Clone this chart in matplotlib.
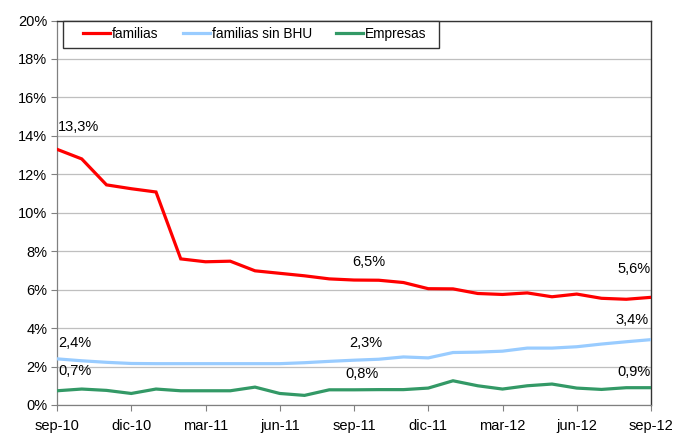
import matplotlib
matplotlib.use("Agg")
import matplotlib.pyplot as plt
from matplotlib.patches import Rectangle
import numpy as np

plt.rcParams['font.family'] = ['Liberation Sans', 'DejaVu Sans']

months = ["sep-10", "oct-10", "nov-10", "dic-10", "ene-11", "feb-11", "mar-11", "abr-11",
          "may-11", "jun-11", "jul-11", "ago-11", "sep-11", "oct-11", "nov-11", "dic-11",
          "ene-12", "feb-12", "mar-12", "abr-12", "may-12", "jun-12", "jul-12", "ago-12", "sep-12"]
tick_labels = ["sep-10", "dic-10", "mar-11", "jun-11", "sep-11", "dic-11", "mar-12", "jun-12", "sep-12"]

familias = [13.3, 12.8, 11.45, 11.25, 11.08, 7.6, 7.45, 7.48, 6.98, 6.85, 6.72, 6.56, 6.5,
            6.49, 6.37, 6.05, 6.04, 5.8, 5.75, 5.83, 5.63, 5.77, 5.55, 5.5, 5.6]
familias_sin_bhu = [2.4, 2.3, 2.22, 2.16, 2.15, 2.15, 2.15, 2.15, 2.15, 2.15, 2.2, 2.27, 2.33,
                    2.38, 2.5, 2.45, 2.73, 2.75, 2.8, 2.96, 2.96, 3.03, 3.17, 3.29, 3.4]
empresas = [0.74, 0.83, 0.76, 0.6, 0.83, 0.74, 0.74, 0.74, 0.93, 0.6, 0.5, 0.79, 0.79,
            0.8, 0.8, 0.88, 1.26, 1.0, 0.83, 1.0, 1.09, 0.88, 0.81, 0.9, 0.9]

series = [("familias", familias, "#FF0000"),
          ("familias sin BHU", familias_sin_bhu, "#99CCFF"),
          ("Empresas", empresas, "#339966")]

W, H = 680, 437
AX_L, AX_B, AX_W, AX_H = 57, 32, 594, 384.5
fig = plt.figure(figsize=(W / 100, H / 100), dpi=100)
ax = fig.add_axes([AX_L / W, AX_B / H, AX_W / W, AX_H / H])

x = np.arange(len(months))
for name, vals, col in series:
    ax.plot(x, vals, color=col, lw=2.3, label=name, solid_joinstyle='miter', zorder=3)

ax.set_xlim(0, len(months) - 1)
ax.set_ylim(0, 20)
ax.set_yticks(np.arange(0, 21, 2))
ax.set_yticklabels([f"{v}%" for v in range(0, 21, 2)])
ax.set_xticks(x[::3])
ax.set_xticklabels(tick_labels)
ax.yaxis.grid(True, color="#BFBFBF", lw=0.9)
ax.set_axisbelow(True)
ax.tick_params(axis='both', direction='out', length=4, width=0.8, color='#808080',
               labelsize=10.5, colors='black')
ax.tick_params(axis='x', pad=6)
ax.tick_params(axis='y', pad=3)
for s in ['left', 'bottom']:
    ax.spines[s].set_color('#808080')
    ax.spines[s].set_linewidth(0.9)
for s in ['top', 'right']:
    ax.spines[s].set_color('#333333')
    ax.spines[s].set_linewidth(1.0)

def fmt(v):
    return f"{v:.1f}".replace(".", ",") + "%"

labels = [(familias, 0, 'left', 1, 22), (familias, 12, 'left', -2, 18), (familias, 24, 'right', 0, 28),
          (familias_sin_bhu, 0, 'left', 1, 16), (familias_sin_bhu, 12, 'left', -5, 17),
          (familias_sin_bhu, 24, 'right', -2, 20),
          (empresas, 0, 'left', 1, 20), (empresas, 12, 'left', -9, 16), (empresas, 24, 'right', 0, 16)]
for vals, i, ha, dx, dy in labels:
    ax.annotate(fmt(vals[i]), xy=(x[i], vals[i]), xytext=(dx, dy), textcoords='offset pixels',
                ha=ha, va='center', fontsize=10.5, zorder=4)

# legend box (pixels in figure space: x 63..439, y-from-top 20.7..47.7)
box_x0, box_x1, box_top, box_bot = 63, 439, 20.7, 47.7
rect = Rectangle((box_x0 / W, 1 - box_bot / H), (box_x1 - box_x0) / W, (box_bot - box_top) / H,
                 transform=fig.transFigure, facecolor='white', edgecolor='#333333', lw=1.0,
                 zorder=5)
fig.patches.append(rect)
leg = fig.legend(loc='center left', bbox_to_anchor=(83 / W, 1 - 34.2 / H), ncol=3, frameon=False,
                 fontsize=9.8, handlelength=2.0, handletextpad=0.15, columnspacing=1.75,
                 borderaxespad=0, borderpad=0)
leg.set_zorder(6)

fig.savefig("out.png", dpi=100)
